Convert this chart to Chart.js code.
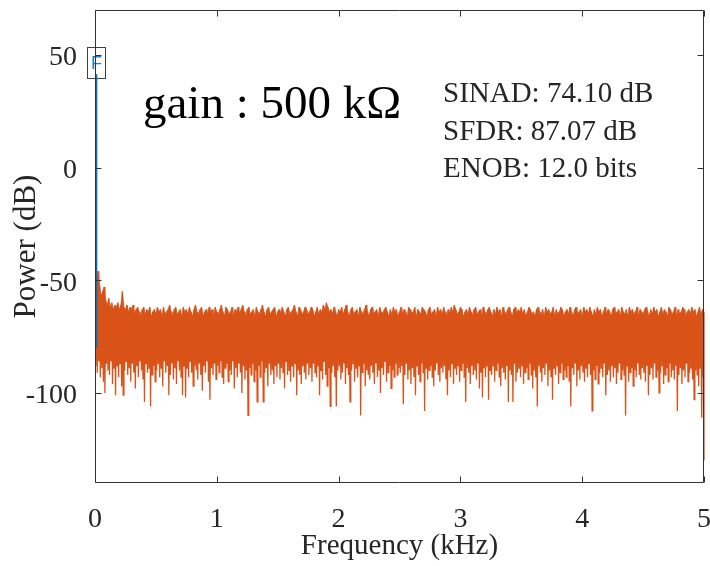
<!DOCTYPE html>
<html>
<head>
<meta charset="utf-8">
<title>Power spectrum - gain 500 kOhm</title>
<script src="https://cdn.jsdelivr.net/npm/chart.js@4.4.1/dist/chart.umd.min.js"></script>
<style>
  html, body { margin: 0; padding: 0; background: #fff; }
  #wrap { width: 710px; height: 566px; position: relative; }
</style>
</head>
<body>
<div id="wrap"><canvas id="spectrum" width="710" height="566"></canvas></div>
<script>
// tick labels
const xTickValues = [0, 1, 2, 3, 4, 5];          // kHz
const yTickValues = [-100, -50, 0, 50];          // dB

// FFT bins are 0.0125 kHz apart, 0 .. 5 kHz
const BIN_KHZ = 0.0125;

// noise peaks (dB), one per bin
const noiseTop = [
  -56, -50, -46, -52, -57, -55, -53, -59, -61, -58, -62, -60, -63, -61, -62, -60, -63, -61, -55, -62,
  -63, -61, -64, -62, -63, -61, -65, -63, -62, -64, -66, -63, -62, -65, -63, -64, -62, -66, -64, -63,
  -65, -62, -64, -63, -66, -62, -65, -64, -63, -61, -64, -66, -63, -62, -65, -64, -63, -66, -62, -64,
  -63, -65, -62, -64, -66, -63, -61, -64, -65, -63, -62, -66, -64, -63, -65, -62, -64, -63, -66, -62,
  -64, -65, -63, -61, -64, -66, -62, -63, -65, -64, -62, -66, -63, -64, -62, -65, -63, -61, -64, -66,
  -63, -62, -65, -64, -63, -66, -62, -64, -65, -63, -61, -64, -66, -63, -62, -65, -64, -63, -62, -66,
  -64, -63, -65, -62, -64, -66, -63, -62, -65, -64, -63, -61, -64, -66, -62, -63, -65, -64, -62, -63,
  -65, -64, -62, -63, -66, -64, -62, -65, -63, -64, -61, -63, -60, -62, -64, -63, -65, -62, -64, -66,
  -63, -64, -62, -65, -63, -61, -64, -66, -63, -62, -65, -64, -63, -66, -62, -64, -65, -63, -61, -64,
  -66, -63, -62, -65, -64, -63, -66, -62, -64, -65, -63, -62, -64, -66, -63, -65, -62, -64, -63, -66,
  -64, -62, -65, -63, -64, -66, -62, -63, -65, -64, -62, -66, -63, -64, -65, -62, -63, -64, -66, -63,
  -62, -65, -64, -63, -66, -62, -64, -63, -65, -62, -64, -66, -63, -65, -62, -64, -61, -63, -65, -64,
  -62, -63, -66, -64, -63, -65, -62, -64, -66, -63, -62, -65, -64, -63, -66, -62, -64, -65, -63, -62,
  -64, -66, -63, -65, -62, -64, -63, -66, -62, -64, -65, -63, -62, -64, -66, -63, -62, -65, -63, -64,
  -62, -65, -63, -66, -64, -62, -63, -65, -64, -66, -63, -62, -64, -65, -63, -66, -62, -64, -63, -65,
  -64, -62, -66, -63, -65, -64, -62, -63, -66, -64, -63, -65, -62, -64, -66, -63, -62, -65, -64, -63,
  -66, -62, -64, -63, -65, -62, -64, -66, -63, -65, -62, -64, -63, -66, -64, -62, -65, -63, -64, -66,
  -63, -62, -65, -64, -63, -66, -62, -64, -65, -63, -66, -62, -64, -63, -65, -64, -62, -66, -63, -64,
  -65, -63, -62, -64, -66, -63, -65, -62, -64, -63, -66, -64, -62, -65, -63, -64, -66, -62, -63, -65,
  -64, -62, -66, -63, -65, -64, -62, -63, -66, -64, -63, -65, -62, -64, -63, -66, -64, -62, -65, -63,
  -64
];

// noise dips (dB), half a bin after each peak
const noiseBottom = [
  -88, -91, -86, -93, -89, -95, -100, -87, -90, -92, -86, -96, -89, -101, -88, -93, -87, -97, -101, -90,
  -86, -92, -89, -95, -87, -91, -98, -88, -93, -86, -90, -94, -104, -87, -91, -89, -106, -92, -88, -95,
  -90, -87, -93, -89, -97, -86, -91, -88, -101, -92, -87, -94, -89, -96, -86, -90, -93, -101, -88, -102,
  -89, -93, -86, -91, -97, -88, -90, -94, -87, -92, -99, -88, -91, -86, -95, -103, -89, -92, -87, -94,
  -88, -91, -86, -93, -96, -89, -87, -95, -90, -92, -86, -98, -89, -93, -87, -91, -100, -88, -94, -90,
  -110, -89, -92, -87, -95, -90, -104, -88, -93, -86, -104, -91, -89, -97, -87, -92, -90, -96, -88, -93,
  -87, -94, -89, -91, -98, -86, -92, -90, -95, -88, -93, -87, -101, -90, -92, -96, -88, -91, -94, -87,
  -92, -89, -95, -87, -91, -93, -88, -101, -90, -94, -86, -92, -97, -89, -106, -91, -88, -93, -106, -90,
  -88, -94, -91, -87, -96, -89, -92, -104, -90, -87, -95, -89, -93, -88, -110, -91, -87, -97, -90, -92,
  -94, -88, -91, -96, -87, -93, -90, -100, -89, -92, -86, -95, -91, -88, -98, -90, -93, -87, -92, -89,
  -91, -88, -105, -92, -87, -94, -90, -96, -89, -93, -101, -88, -92, -95, -87, -91, -108, -89, -94, -90,
  -88, -93, -97, -90, -87, -92, -95, -89, -91, -88, -94, -101, -90, -93, -87, -96, -89, -92, -88, -95,
  -90, -87, -93, -104, -89, -91, -96, -88, -92, -90, -94, -87, -98, -91, -102, -89, -93, -88, -103, -90,
  -92, -88, -95, -90, -87, -93, -97, -89, -91, -94, -88, -104, -90, -92, -104, -87, -95, -91, -89, -93,
  -88, -96, -91, -89, -94, -87, -92, -98, -90, -93, -106, -88, -91, -95, -89, -92, -87, -97, -90, -93,
  -103, -89, -92, -88, -96, -91, -87, -94, -90, -93, -88, -95, -106, -89, -92, -87, -97, -90, -94, -88,
  -91, -95, -89, -93, -87, -92, -108, -90, -94, -88, -96, -91, -89, -93, -87, -101, -92, -90, -95, -88,
  -93, -89, -96, -91, -87, -94, -90, -92, -110, -88, -95, -91, -89, -97, -90, -93, -87, -92, -94, -89,
  -91, -95, -88, -101, -92, -89, -94, -87, -93, -90, -100, -91, -88, -96, -92, -89, -95, -87, -93, -90,
  -94, -88, -108, -92, -89, -96, -90, -93, -87, -95, -91, -89, -94, -103, -90, -92, -97, -89, -111, -93,
  -130
];

// fundamental (blue) and DC bin (black)
const fundFreq = [0.01, 0.01];
const fundPower = [-80, 41.5];
const dcFreq = [0.002, 0.002];
const dcPower = [-58, -69];

const gainLabel = 'gain : 500 k\u03A9';
const metricLines = ['SINAD: 74.10 dB', 'SFDR: 87.07 dB', 'ENOB: 12.0 bits'];

const SERIF = "'Liberation Serif', 'Times New Roman', serif";
const AXIS_COLOR = '#333333';
const TEXT_COLOR = '#262626';
const ORANGE = '#D95319';
const BLUE = '#0072BD';

// the trace runs peak -> dip -> next peak ...
const noiseTrace = [];
noiseTop.forEach((top, i) => {
  const f = i * BIN_KHZ;
  noiseTrace.push({ x: f, y: top });
  noiseTrace.push({ x: Math.min(f + BIN_KHZ / 2, 5), y: noiseBottom[i] });
});
const noiseBand = noiseTop.map((top, i) => ({ x: i * BIN_KHZ, y: top }));
const fundTrace = fundFreq.map((f, i) => ({ x: f, y: fundPower[i] }));
const dcTrace = dcFreq.map((f, i) => ({ x: f, y: dcPower[i] }));

// MATLAB style box with inward ticks on all four sides
const boxFrame = {
  id: 'boxFrame',
  afterDraw(chart) {
    const { ctx, chartArea: a, scales } = chart;
    const L = Math.round(a.left) + 0.5, R = Math.round(a.right) - 0.5;
    const T = Math.round(a.top) + 0.5, B = Math.round(a.bottom) - 0.5;
    const tick = 6;
    ctx.save();
    ctx.strokeStyle = AXIS_COLOR;
    ctx.lineWidth = 1;
    ctx.beginPath();
    ctx.rect(L, T, R - L, B - T);
    xTickValues.forEach(v => {
      const px = Math.round(scales.x.getPixelForValue(v)) + 0.5;
      ctx.moveTo(px, B); ctx.lineTo(px, B - tick);
      ctx.moveTo(px, T); ctx.lineTo(px, T + tick);
    });
    yTickValues.forEach(v => {
      const py = Math.round(scales.y.getPixelForValue(v)) + 0.5;
      ctx.moveTo(L, py); ctx.lineTo(L + tick, py);
      ctx.moveTo(R, py); ctx.lineTo(R - tick, py);
    });
    ctx.stroke();

    // text annotations
    ctx.fillStyle = '#000';
    ctx.font = '47px ' + SERIF;
    ctx.textBaseline = 'alphabetic';
    ctx.textAlign = 'left';
    ctx.fillText(gainLabel, 143, 118);

    ctx.fillStyle = TEXT_COLOR;
    ctx.font = '29px ' + SERIF;
    metricLines.forEach((line, i) => {
      ctx.fillText(line, 443, 102 + i * 37.5);
    });
    ctx.restore();
  }
};

// "F" marker box on the fundamental
const fundMarker = {
  id: 'fundMarker',
  beforeDatasetsDraw(chart) {
    const { ctx, scales } = chart;
    const px = scales.x.getPixelForValue(fundFreq[1]);
    const py = scales.y.getPixelForValue(fundPower[1]);
    const w = 18, h = 31;
    const x0 = Math.round(px - w / 2) + 0.5;
    const y0 = Math.round(py + 4 - h) + 0.5;
    ctx.save();
    ctx.fillStyle = '#fff';
    ctx.strokeStyle = '#404040';
    ctx.lineWidth = 1;
    ctx.fillRect(x0, y0, w, h);
    ctx.strokeRect(x0, y0, w, h);
    ctx.fillStyle = '#1f7fc8';
    ctx.font = '18px "Liberation Sans", Arial, sans-serif';
    ctx.textAlign = 'center';
    ctx.textBaseline = 'middle';
    ctx.fillText('F', x0 + w / 2, y0 + h / 2 + 1);
    ctx.restore();
  }
};

new Chart(document.getElementById('spectrum'), {
  type: 'line',
  data: {
    datasets: [
      {
        label: 'fundamental',
        data: fundTrace,
        borderColor: BLUE,
        borderWidth: 2.2,
        pointRadius: 0,
        fill: false,
        order: 0
      },
      {
        label: 'dc',
        data: dcTrace,
        borderColor: '#000',
        borderWidth: 2,
        pointRadius: 0,
        fill: false,
        order: 1
      },
      {
        label: 'noise',
        data: noiseTrace,
        borderColor: ORANGE,
        borderWidth: 1.3,
        pointRadius: 0,
        fill: false,
        clip: { left: 0, top: 0, right: 2, bottom: 0 },
        order: 2
      },
      {
        label: 'noise band',
        data: noiseBand,
        borderColor: ORANGE,
        borderWidth: 0.8,
        backgroundColor: ORANGE,
        pointRadius: 0,
        fill: { value: -85.5 },
        order: 3
      }
    ]
  },
  options: {
    responsive: false,
    animation: false,
    devicePixelRatio: 1,
    layout: { padding: { top: 10, right: 6, left: 0, bottom: 0 } },
    plugins: {
      legend: { display: false },
      tooltip: { enabled: false }
    },
    scales: {
      x: {
        type: 'linear',
        min: 0,
        max: 5,
        afterBuildTicks: scale => { scale.ticks = xTickValues.map(v => ({ value: v })); },
        afterFit: scale => {
          scale.height = 83;
          scale.paddingLeft = 0;
          scale.paddingRight = 0;
        },
        grid: { display: false },
        border: { display: false },
        ticks: {
          color: TEXT_COLOR,
          font: { family: SERIF, size: 28 },
          padding: 12,
          maxRotation: 0
        },
        title: {
          display: true,
          text: 'Frequency (kHz)',
          color: TEXT_COLOR,
          font: { family: SERIF, size: 29 },
          padding: { top: 0, bottom: 2 }
        }
      },
      y: {
        type: 'linear',
        min: -140,
        max: 70,
        afterBuildTicks: scale => { scale.ticks = yTickValues.map(v => ({ value: v })); },
        afterFit: scale => {
          scale.width = 95;
          scale.paddingTop = 0;
          scale.paddingBottom = 0;
        },
        grid: { display: false },
        border: { display: false },
        ticks: {
          color: TEXT_COLOR,
          font: { family: SERIF, size: 28 },
          padding: 10,
          labelOffset: 3
        },
        title: {
          display: true,
          text: 'Power (dB)',
          color: TEXT_COLOR,
          font: { family: SERIF, size: 31 },
          padding: { top: 8, bottom: 0 }
        }
      }
    }
  },
  plugins: [fundMarker, boxFrame]
});
</script>
</body>
</html>
